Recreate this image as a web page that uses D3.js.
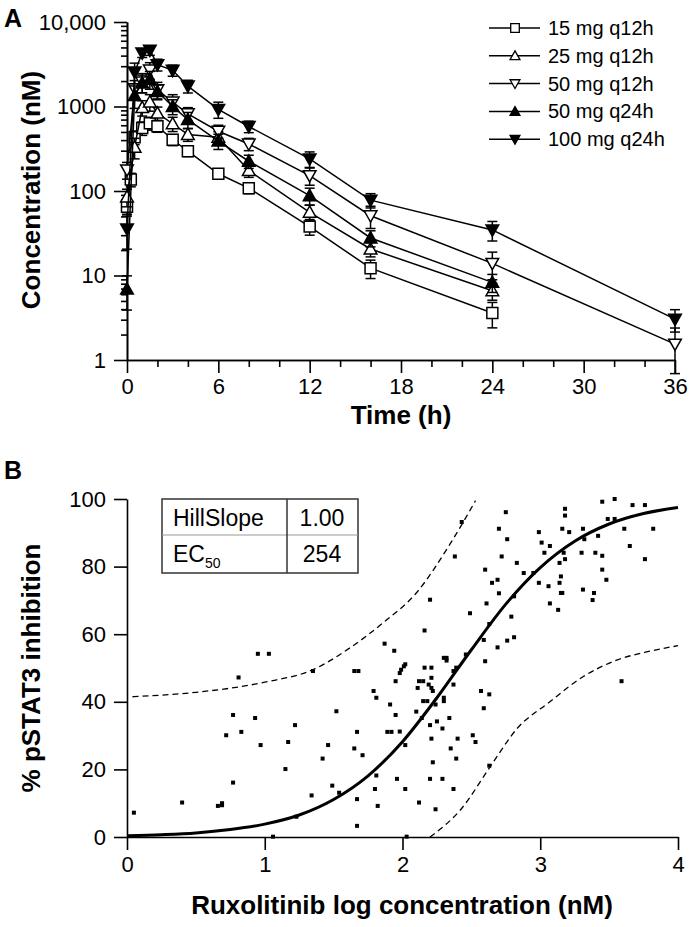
<!DOCTYPE html>
<html>
<head>
<meta charset="utf-8">
<script src="https://cdnjs.cloudflare.com/ajax/libs/d3/7.8.5/d3.min.js"></script>
<style>
body { margin: 0; background: #fff; }
svg { font-family: "Liberation Sans", Arial, sans-serif; }
.axis path, .axis line { stroke: #000; stroke-width: 1.6px; }
.axis text { font-size: 22px; fill: #000; }
.title { font-size: 26px; font-weight: bold; }
</style>
</head>
<body>
<svg id="viz" width="691" height="927"></svg>
<script>
// ---- panel A: PK curves (mean, SD) ----
var seriesNames = ["15 mg q12h", "25 mg q12h", "50 mg q12h", "50 mg q24h", "100 mg q24h"];
var seriesMarks = ["square", "up", "down", "upFill", "downFill"];

var times15 = [0, 0.25, 0.5, 1, 1.5, 2, 3, 4, 6, 8, 12, 16, 24];
var mean15 = [65, 137, 433, 555, 635, 585, 404, 296, 160, 108, 38, 12.2, 3.6];
var sd15 = [12, 25, 80, 100, 110, 90, 60, 40, 15, 15, 8, 3, 1.2];

var times25 = [0, 0.5, 1, 1.5, 2, 3, 4, 6, 8, 12, 16, 24];
var mean25 = [85, 330, 970, 1130, 835, 625, 467, 433, 175, 56, 20.6, 6.6];
var sd25 = [20, 90, 200, 250, 150, 120, 80, 70, 30, 12, 4, 1.5];

var times50a = [0, 0.5, 1, 1.5, 2, 3, 4, 6, 8, 12, 16, 24, 36];
var mean50a = [178, 1625, 1950, 2700, 1580, 1130, 820, 510, 360, 152, 51, 13.9, 1.54];
var sd50a = [40, 400, 500, 600, 350, 250, 150, 90, 60, 35, 15, 5, 0.85];

var times50b = [0, 0.5, 1, 1.5, 2, 3, 4, 6, 8, 12, 16, 24];
var mean50b = [6.9, 1350, 1900, 2100, 1500, 1000, 700, 390, 225, 88, 27.8, 8.3];
var sd50b = [3, 400, 450, 500, 300, 200, 150, 80, 40, 20, 6, 2];

var times100 = [0, 0.5, 1, 1.5, 2, 3, 4, 6, 8, 12, 16, 24, 36];
var mean100 = [35.5, 2560, 4300, 4630, 3130, 2680, 1745, 925, 580, 240, 78, 34.6, 3.04];
var sd100 = [15, 700, 500, 600, 500, 400, 300, 200, 90, 50, 15, 9, 0.9];

var timeTicks = [0, 6, 12, 18, 24, 30, 36];
var concTicks = [1, 10, 100, 1000, 10000];

// ---- panel B: pSTAT3 inhibition vs log concentration ----
var logConc = [0.05, 0.40, 0.66, 0.69, 0.69, 0.72, 0.77, 0.77, 0.81, 0.83, 0.93, 0.95, 1.03, 0.97, 1.06,
  1.15, 1.17, 1.22, 1.23, 1.34, 1.35, 1.42, 1.46, 1.49, 1.52, 1.54, 1.65, 1.68, 1.65, 1.67, 1.67, 1.67,
  1.71, 1.79, 1.81, 1.81, 1.80, 1.82, 1.87, 1.91, 1.94, 1.95, 1.95, 1.89, 1.92, 1.96, 1.98, 1.99, 2.02,
  2.01, 1.98, 2.02, 2.02, 2.03, 2.12, 2.24, 2.20, 2.29, 2.37, 2.22, 2.39, 2.35, 2.21, 2.40, 2.51, 2.53,
  2.10, 2.14, 2.20, 2.25, 2.29, 2.34, 2.15, 2.18, 2.24, 2.30, 2.30, 2.11, 2.12, 2.15, 2.19, 2.21, 2.22,
  2.21, 2.37, 2.16, 2.21, 2.30, 2.32, 2.32, 2.39, 2.37, 2.46, 2.57, 2.63, 2.59, 2.60, 2.69, 2.63, 3.59,
  2.43, 2.38, 2.20, 2.16, 2.49, 2.59, 2.63, 2.76, 2.81, 2.79, 2.61, 2.60, 2.65, 2.69, 2.70, 2.72, 2.70,
  2.75, 2.76, 2.81, 2.83, 2.88, 2.95, 2.99, 3.01, 3.03, 3.07, 2.99, 3.06, 3.07, 3.13, 3.14, 3.14, 3.15,
  3.15, 3.16, 3.16, 3.18, 3.18, 3.21, 3.17, 3.18, 3.31, 3.32, 3.30, 3.31, 3.40, 3.39, 3.38, 3.42, 3.45,
  3.45, 3.45, 3.48, 3.49, 3.54, 3.54, 3.61, 3.65, 3.67, 3.76, 3.82, 3.76];
var inhibition = [7.2, 10.2, 9.2, 9.4, 10, 30.1, 36.1, 16.1, 47.2, 31.1, 35.2, 54.2, 54.2, 27.2, 0.1,
  20.1, 28.1, 33.1, 6, 12.3, 49.1, 23.2, 27.2, 15.2, 37.2, 13.1, 49.1, 49.1, 26.2, 31.1, 11.2, 3.3,
  24.2, 43.2, 41.2, 18.2, 14.2, 9.2, 57.2, 39.2, 55.1, 46.1, 36.1, 31.1, 31.1, 17.2, 48.5, 49.5, 51.1,
  50.5, 31.2, 27.2, 14.2, 0.1, 10.2, 8.2, 17.2, 17.2, 14.2, 22.1, 23.2, 26.2, 29.1, 29.1, 30.1, 28.1,
  37.1, 35.2, 33.1, 34.2, 32.1, 35.2, 40.2, 40.2, 39.2, 41.2, 40.2, 44.1, 46.1, 46.1, 45.1, 44.1, 43.2,
  47.1, 45.1, 50.1, 50.1, 53, 52.2, 53, 50.1, 49.1, 54, 43.2, 42.2, 38.1, 52, 56.1, 21.1, 46.1,
  93.2, 83, 70.2, 61.1, 66.2, 58.3, 63, 58.1, 59.1, 65.2, 69.1, 79.1, 75.2, 76.1, 72.1, 83, 91.2,
  96.1, 88.1, 71.2, 81.1, 78.1, 78.1, 90.2, 87.1, 84.1, 86.1, 75.2, 74.2, 69.1, 67.2, 81.1, 75.2, 77.1,
  72.2, 72.2, 91.2, 97.1, 95.1, 90.2, 84.1, 82.2, 91.2, 88.1, 84.1, 73.2, 84.1, 72.2, 70.1, 89.1, 99.2,
  83.2, 79.1, 76.1, 94.1, 100, 94.1, 91.2, 86.1, 98.2, 98.2, 91.2, 82.2];

var fitX = [0, 0.25, 0.5, 0.75, 1, 1.25, 1.5, 1.75, 2, 2.25, 2.5, 2.75, 3, 3.25, 3.5, 3.75, 4];
var fitY = [0.4, 0.7, 1.2, 2.2, 3.8, 6.5, 11.1, 18.1, 28.2, 41.2, 55.4, 68.9, 79.7, 87.5, 92.6, 95.7, 97.5];
var upperX = [0.04, 0.5, 1.0, 1.35, 1.62, 1.86, 2.1, 2.35, 2.53];
var upperY = [41.5, 42.8, 45.8, 49.5, 56, 63.4, 72.2, 87, 99.5];
var lowerX = [2.2, 2.42, 2.64, 2.83, 3.07, 3.31, 3.56, 3.8, 4.0];
var lowerY = [0, 8, 21, 32, 40, 47.4, 52.4, 55, 56.6];

var tableRows = [["HillSlope", "1.00"], ["EC", "254"]];
var logTicks = [0, 1, 2, 3, 4];
var pctTicks = [0, 20, 40, 60, 80, 100];

var svg = d3.select("#viz");

var markPath = function(kind, s){
    if(kind === "square"){
        return "M" + (-s) + "," + (-s) + "h" + (2 * s) + "v" + (2 * s) + "h" + (-2 * s) + "Z";
    }
    if(kind === "up" || kind === "upFill"){
        return "M0," + (-1.15 * s) + "L" + (1.15 * s) + "," + (0.9 * s) + "L" + (-1.15 * s) + "," + (0.9 * s) + "Z";
    }
    return "M0," + (1.15 * s) + "L" + (1.15 * s) + "," + (-0.9 * s) + "L" + (-1.15 * s) + "," + (-0.9 * s) + "Z";
};

function drawA(){
    var x = d3.scaleLinear().domain([0, 36]).range([127, 675]);
    var y = d3.scaleLog().domain([1, 10000]).range([360, 22]);

    var minorY = [];
    [1, 10, 100, 1000].forEach(function(d){
        for(var k = 2; k < 10; k++){ minorY.push(d * k); }
    });
    var minorX = d3.range(0, 37, 2).filter(function(d){ return d % 6 !== 0; });

    svg.append("g").attr("class", "axis").attr("transform", "translate(127,0)")
        .call(d3.axisLeft(y).tickValues(minorY).tickSize(6).tickSizeOuter(0).tickFormat(""));
    svg.append("g").attr("class", "axis").attr("transform", "translate(127,0)")
        .call(d3.axisLeft(y).tickValues(concTicks).tickSize(13).tickSizeOuter(0).tickPadding(8)
            .tickFormat(function(d){ return d === 10000 ? "10,000" : d; }));
    svg.append("g").attr("class", "axis").attr("transform", "translate(0,360)")
        .call(d3.axisBottom(x).tickValues(minorX).tickSize(7).tickSizeOuter(0).tickFormat(""));
    svg.append("g").attr("class", "axis").attr("transform", "translate(0,360)")
        .call(d3.axisBottom(x).tickValues(timeTicks).tickSize(13).tickSizeOuter(0).tickPadding(5));

    var all = [
        [times15, mean15, sd15], [times25, mean25, sd25], [times50a, mean50a, sd50a],
        [times50b, mean50b, sd50b], [times100, mean100, sd100]
    ];

    all.forEach(function(s, i){
        var pts = s[0].map(function(t, j){
            return { t: t, m: s[1][j], sd: s[2][j] };
        });
        var g = svg.append("g");
        var eb = g.selectAll(".eb").data(pts).enter().append("g")
            .attr("stroke", "#000").attr("stroke-width", 1.5);
        eb.append("line")
            .attr("x1", function(d){ return x(d.t); }).attr("x2", function(d){ return x(d.t); })
            .attr("y1", function(d){ return y(Math.max(d.m - d.sd, 0.6)); })
            .attr("y2", function(d){ return y(d.m + d.sd); });
        eb.append("line")
            .attr("x1", function(d){ return x(d.t) - 5; }).attr("x2", function(d){ return x(d.t) + 5; })
            .attr("y1", function(d){ return y(d.m + d.sd); }).attr("y2", function(d){ return y(d.m + d.sd); });
        eb.append("line")
            .attr("x1", function(d){ return x(d.t) - 5; }).attr("x2", function(d){ return x(d.t) + 5; })
            .attr("y1", function(d){ return y(Math.max(d.m - d.sd, 0.6)); })
            .attr("y2", function(d){ return y(Math.max(d.m - d.sd, 0.6)); });

        g.append("path").datum(pts)
            .attr("fill", "none").attr("stroke", "#000").attr("stroke-width", 1.5)
            .attr("d", d3.line().x(function(d){ return x(d.t); }).y(function(d){ return y(d.m); }));

        var kind = seriesMarks[i];
        g.selectAll(".mk").data(pts).enter().append("path")
            .attr("transform", function(d){ return "translate(" + x(d.t) + "," + y(d.m) + ")"; })
            .attr("d", markPath(kind, 5.5))
            .attr("fill", kind.indexOf("Fill") > 0 ? "#000" : "#fff")
            .attr("stroke", "#000").attr("stroke-width", 1.5);
    });

    // legend
    var lg = svg.append("g").selectAll("g").data(seriesNames).enter().append("g")
        .attr("transform", function(d, i){ return "translate(0," + (28 + i * 27.8) + ")"; });
    lg.append("line").attr("x1", 489).attr("x2", 540).attr("stroke", "#000").attr("stroke-width", 1.5);
    lg.append("path").attr("transform", "translate(515,0)")
        .attr("d", function(d, i){ return markPath(seriesMarks[i], 4.3); })
        .attr("fill", function(d, i){ return seriesMarks[i].indexOf("Fill") > 0 ? "#000" : "#fff"; })
        .attr("stroke", "#000").attr("stroke-width", 1.3);
    lg.append("text").attr("x", 548).attr("y", 7).style("font-size", "20px").text(function(d){ return d; });

    svg.append("text").attr("class", "title").attr("text-anchor", "middle")
        .attr("transform", "translate(40,190) rotate(-90)").text("Concentration (nM)");
    svg.append("text").attr("class", "title").attr("text-anchor", "middle")
        .attr("x", 401).attr("y", 424).text("Time (h)");
    svg.append("text").attr("x", 4).attr("y", 27).style("font-size", "25px").style("font-weight", "bold").text("A");
}

function drawB(){
    var x = d3.scaleLinear().domain([0, 4]).range([127, 678]);
    var y = d3.scaleLinear().domain([0, 100]).range([837, 499]);

    svg.append("g").attr("class", "axis").attr("transform", "translate(127,0)")
        .call(d3.axisLeft(y).tickValues(pctTicks).tickSize(13).tickSizeOuter(0).tickPadding(8));
    svg.append("g").attr("class", "axis").attr("transform", "translate(0,837)")
        .call(d3.axisBottom(x).tickValues(logTicks).tickSize(13).tickSizeOuter(0).tickPadding(6)
            .tickFormat(d3.format("d")));

    var pts = logConc.map(function(v, i){ return [v, inhibition[i]]; });
    svg.append("g").selectAll("rect").data(pts).enter().append("rect")
        .attr("x", function(d){ return x(d[0]) - 2; })
        .attr("y", function(d){ return y(d[1]) - 2; })
        .attr("width", 4).attr("height", 4).attr("fill", "#000");

    var line = d3.line().curve(d3.curveMonotoneX)
        .x(function(d){ return x(d[0]); }).y(function(d){ return y(d[1]); });

    svg.append("path").datum(fitX.map(function(v, i){ return [v, fitY[i]]; }))
        .attr("fill", "none").attr("stroke", "#000").attr("stroke-width", 3).attr("d", line);
    svg.append("path").datum(upperX.map(function(v, i){ return [v, upperY[i]]; }))
        .attr("fill", "none").attr("stroke", "#000").attr("stroke-width", 1.3)
        .attr("stroke-dasharray", "6,4").attr("d", line);
    svg.append("path").datum(lowerX.map(function(v, i){ return [v, lowerY[i]]; }))
        .attr("fill", "none").attr("stroke", "#000").attr("stroke-width", 1.3)
        .attr("stroke-dasharray", "6,4").attr("d", line);

    // parameter table
    var tb = svg.append("g");
    tb.append("rect").attr("x", 162).attr("y", 499).attr("width", 196).attr("height", 74)
        .attr("fill", "#fff").attr("stroke", "#333").attr("stroke-width", 1.5);
    tb.append("line").attr("x1", 162).attr("x2", 358).attr("y1", 535).attr("y2", 535)
        .attr("stroke", "#999").attr("stroke-width", 1);
    tb.append("line").attr("x1", 287).attr("x2", 287).attr("y1", 499).attr("y2", 573)
        .attr("stroke", "#333").attr("stroke-width", 1.5);
    tableRows.forEach(function(r, i){
        var t = tb.append("text").attr("x", 173).attr("y", 526 + i * 36).style("font-size", "23px").text(r[0]);
        if(i === 1){
            t.append("tspan").attr("dy", 6).style("font-size", "14px").text("50");
        }
        tb.append("text").attr("x", 322).attr("y", 526 + i * 36).attr("text-anchor", "middle")
            .style("font-size", "23px").text(r[1]);
    });

    svg.append("text").attr("class", "title").attr("text-anchor", "middle")
        .attr("transform", "translate(40,668) rotate(-90)").text("% pSTAT3 inhibition");
    svg.append("text").attr("class", "title").attr("text-anchor", "middle")
        .attr("x", 402).attr("y", 914).text("Ruxolitinib log concentration (nM)");
    svg.append("text").attr("x", 4).attr("y", 479).style("font-size", "25px").style("font-weight", "bold").text("B");
}

drawA();
drawB();
</script>
</body>
</html>
